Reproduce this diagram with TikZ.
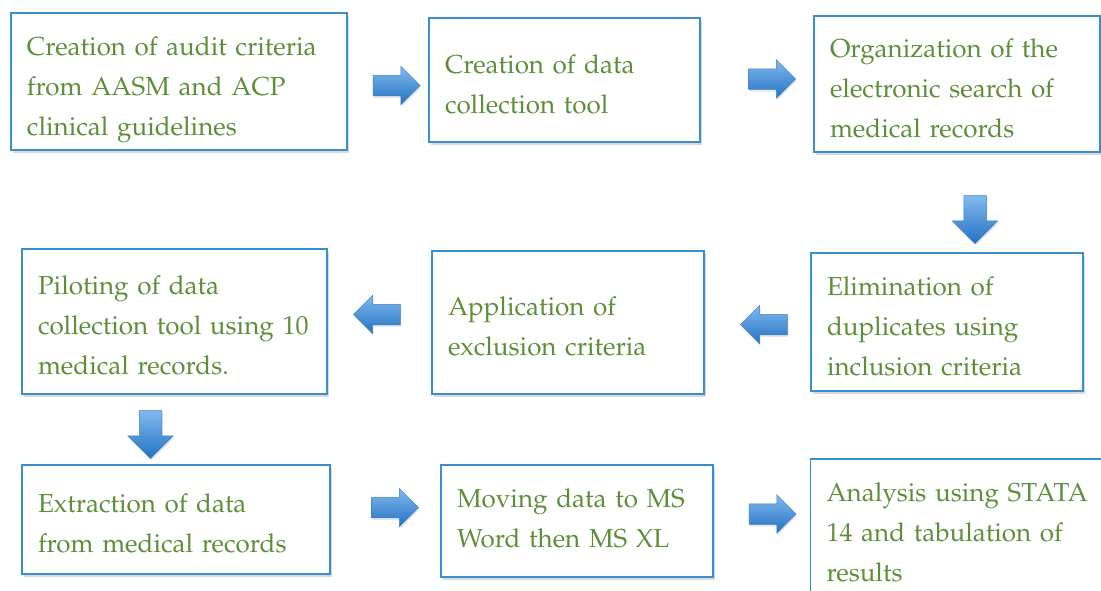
\documentclass[tikz,border=0pt]{standalone}
\usepackage[T1]{fontenc}
\usepackage{mathpazo}
\usetikzlibrary{shapes.arrows, shadows}
\definecolor{boxblue}{HTML}{3C8DCB}
\definecolor{textgreen}{HTML}{5E8E3A}
\definecolor{arrowlight}{HTML}{82B9EE}
\definecolor{arrowdark}{HTML}{2372C2}
\definecolor{arrowedge}{HTML}{3A82C4}

\tikzset{
  stepbox/.style={rectangle, draw=boxblue, line width=1.3pt, fill=white, text=textgreen, align=left, inner xsep=16pt, inner ysep=0pt, text height=27pt, font=\fontsize{26}{40}\selectfont, drop shadow={shadow xshift=2pt, shadow yshift=-3pt, opacity=0.3}},
  blockarrow/.style={single arrow, draw=arrowedge, line width=0.5pt, top color=arrowlight, bottom color=arrowdark, inner xsep=0pt, inner ysep=10pt, single arrow head extend=9pt, minimum height=47pt, minimum width=0pt, drop shadow={shadow xshift=1pt, shadow yshift=-2pt, opacity=0.2}},
  downarrow/.style={blockarrow, shape border rotate=270, inner xsep=11pt, inner ysep=0pt, single arrow head extend=11.5pt, minimum height=48pt}
}

\begin{document}
\begin{tikzpicture}[x=1pt, y=-1pt]
\useasboundingbox (0,0) rectangle (1101,590);
\clip (0,0) rectangle (1101,590);

% first row
\node[stepbox, text width=304pt, minimum height=137pt, text height=35pt] (audit) at (179,81.5) {Creation of audit criteria\\from AASM and ACP\\clinical guidelines};
\node[stepbox, text width=239pt, minimum height=124pt] (tool) at (564.5,80) {Creation of data\\collection tool};
\node[stepbox, text width=254pt, minimum height=136pt] (search) at (957,84) {Organization of the\\electronic search of\\medical records};

% second row
\node[stepbox, text width=240pt, minimum height=138pt] (dupl) at (947,322) {Elimination of\\duplicates using\\inclusion criteria};
\node[stepbox, text width=240pt, minimum height=143pt] (excl) at (568,322.5) {Application of\\exclusion criteria};
\node[stepbox, text width=273pt, minimum height=145pt] (pilot) at (174.5,321.5) {Piloting of data\\collection tool using 10\\medical records.};

% third row
\node[stepbox, text width=276pt, minimum height=109pt] (extract) at (176,519.5) {Extraction of data\\from medical records};
\node[stepbox, text width=240pt, minimum height=112pt, text height=13pt] (moving) at (577,521) {Moving data to MS\\Word then MS XL};
\node[stepbox, text width=297pt, minimum height=151pt, text height=15pt] (analysis) at (975,534.5) {Analysis using STATA\\14 and tabulation of\\results};

% block arrows
\node[blockarrow] (a1) at (391.5,85.5) {};
\node[blockarrow] (a2) at (767,79) {};
\node[downarrow] (a3) at (975,214) {};
\node[blockarrow, shape border rotate=180] (a4) at (769,324.5) {};
\node[blockarrow, shape border rotate=180] (a5) at (382,314.5) {};
\node[downarrow] (a6) at (150.5,429) {};
\node[blockarrow] (a7) at (390,507.5) {};
\node[blockarrow] (a8) at (767.5,514) {};
\end{tikzpicture}
\end{document}
